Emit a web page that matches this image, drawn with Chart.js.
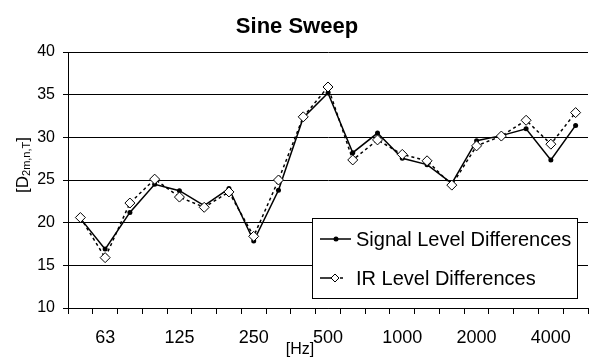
<!DOCTYPE html>
<html>
<head>
<meta charset="utf-8">
<script src="https://cdn.jsdelivr.net/npm/chart.js@4"></script>
<style>
  html, body { margin: 0; padding: 0; background: #fff; }
  #wrap { width: 594px; height: 359px; }
</style>
</head>
<body>
<div id="wrap"><canvas id="sweep-chart"></canvas></div>
<script>
// third-octave bands, only some of them get a label
var bands = ['50', '63', '80', '100', '125', '160', '200', '250', '315', '400', '500',
  '630', '800', '1000', '1250', '1600', '2000', '2500', '3150', '4000', '5000'];
var tickLabels = ['63', '125', '250', '500', '1000', '2000', '4000'];

var signalLevel = [20.5, 16.9, 21.2, 24.5, 23.75, 22.0, 24.0, 17.85, 23.8, 32.3, 35.2,
  28.2, 30.5, 27.55, 26.8, 24.6, 29.6, 30.2, 31.0, 27.35, 31.4];
var irLevel = [20.6, 15.9, 22.3, 25.1, 23.0, 21.8, 23.6, 18.4, 25.0, 32.4, 35.9,
  27.35, 29.7, 28.0, 27.25, 24.4, 29.0, 30.15, 32.0, 29.2, 32.9];

var FONT = "'Liberation Sans', Arial, sans-serif";

// legend box and axis titles are drawn by hand (subscript, free position)
var decor = {
  id: 'decor',
  afterDraw: function (chart) {
    var ctx = chart.ctx;
    var sets = chart.data.datasets;
    ctx.save();

    // legend
    ctx.fillStyle = '#fff';
    ctx.fillRect(312, 218, 265, 80);
    ctx.strokeStyle = '#000';
    ctx.lineWidth = 1;
    ctx.strokeRect(312.5, 218.5, 265, 80);

    ctx.font = '20px ' + FONT;
    ctx.textBaseline = 'middle';
    ctx.fillStyle = '#000';
    for (var i = 0; i < sets.length; i++) {
      var y = 239 + i * 39;
      ctx.lineWidth = 1.5;
      ctx.strokeStyle = '#000';
      if (i === 0) {
        ctx.beginPath();
        ctx.moveTo(320, y); ctx.lineTo(351, y);
        ctx.stroke();
        ctx.beginPath();
        ctx.arc(336, y, 2.5, 0, Math.PI * 2);
        ctx.fillStyle = '#000';
        ctx.fill();
      } else {
        ctx.beginPath();
        ctx.moveTo(320, y); ctx.lineTo(331, y);
        ctx.moveTo(340, y); ctx.lineTo(343, y);
        ctx.stroke();
        ctx.lineWidth = 1;
        ctx.beginPath();
        ctx.moveTo(335, y - 4); ctx.lineTo(339, y); ctx.lineTo(335, y + 4); ctx.lineTo(331, y);
        ctx.closePath();
        ctx.fillStyle = '#fff';
        ctx.fill();
        ctx.stroke();
      }
      ctx.fillStyle = '#000';
      ctx.fillText(sets[i].label, 356, y + 1);
    }

    // x axis title
    ctx.font = '16px ' + FONT;
    ctx.textAlign = 'center';
    ctx.fillText('[Hz]', 300, 350);

    // y axis title with subscript
    ctx.translate(22, 165);
    ctx.rotate(-Math.PI / 2);
    ctx.textAlign = 'left';
    ctx.textBaseline = 'alphabetic';
    var big = '17px ' + FONT, small = '11px ' + FONT;
    ctx.font = big; var w1 = ctx.measureText('[D').width; var w3 = ctx.measureText(']').width;
    ctx.font = small; var w2 = ctx.measureText('2m,n,T').width;
    var x0 = -(w1 + w2 + w3) / 2;
    ctx.font = big;
    ctx.fillText('[D', x0, 6);
    ctx.font = small;
    ctx.fillText('2m,n,T', x0 + w1, 8);
    ctx.font = big;
    ctx.fillText(']', x0 + w1 + w2, 6);
    ctx.restore();
  }
};

var chart = new Chart(document.getElementById('sweep-chart'), {
  type: 'line',
  data: {
    labels: bands,
    datasets: [{
      label: 'Signal Level Differences',
      data: signalLevel,
      borderColor: '#000',
      borderWidth: 1.5,
      pointRadius: 2.5,
      pointBackgroundColor: '#000',
      pointBorderColor: '#000',
      pointBorderWidth: 0,
      tension: 0,
      order: 2
    }, {
      label: 'IR Level Differences',
      data: irLevel,
      borderColor: '#000',
      borderWidth: 1.5,
      borderDash: [3, 3],
      pointStyle: 'rectRot',
      pointRadius: 5,
      pointBackgroundColor: '#fff',
      pointBorderColor: '#000',
      pointBorderWidth: 1,
      tension: 0,
      order: 1
    }]
  },
  options: {
    responsive: true,
    maintainAspectRatio: false,
    animation: false,
    layout: { padding: 0 },
    plugins: {
      legend: { display: false },
      tooltip: { enabled: false },
      title: {
        display: true,
        text: 'Sine Sweep',
        color: '#000',
        font: { family: FONT, size: 22, weight: 'bold' },
        padding: { top: 14, bottom: 11.6 }
      }
    },
    scales: {
      x: {
        offset: true,
        grid: { offset: true, drawOnChartArea: false, tickLength: 6, color: '#000' },
        border: { color: '#000' },
        ticks: {
          autoSkip: false,
          maxRotation: 0,
          padding: 13,
          color: '#000',
          font: { family: FONT, size: 18 },
          callback: function (v) {
            var l = this.getLabelForValue(v);
            return tickLabels.indexOf(l) >= 0 ? l : '';
          }
        },
        afterFit: function (s) { s.height = 51; }
      },
      y: {
        min: 10,
        max: 40,
        grid: { color: '#000', tickLength: 5 },
        border: { color: '#000' },
        ticks: {
          stepSize: 5,
          padding: 8,
          color: '#000',
          font: { family: FONT, size: 16 }
        },
        afterFit: function (s) { s.width = 68; }
      }
    }
  },
  plugins: [decor]
});
</script>
</body>
</html>
